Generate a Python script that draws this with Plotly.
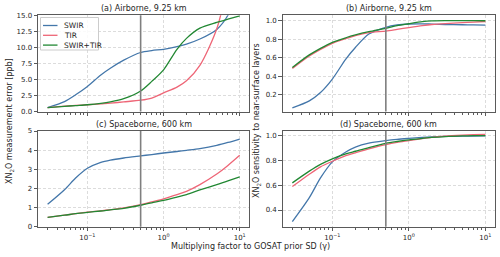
import plotly.graph_objects as go

# ---------------- data ----------------
gamma = [0.03, 0.05, 0.07, 0.1, 0.15, 0.2, 0.3, 0.5, 0.7, 1, 1.5, 2, 3, 5, 7, 10]
gamma_ref = 0.5

# (a) Airborne error [ppb]
a_swir = [0.62, 1.55, 2.6, 3.9, 5.7, 6.75, 8.0, 9.2, 9.5, 9.7, 10.1, 10.5, 11.3, 12.8, 15.0, 20.0]
a_tir = [0.6, 0.85, 0.95, 1.05, 1.2, 1.3, 1.5, 1.76, 2.1, 2.9, 3.8, 4.8, 7.2, 12.9, 20.0, 30.0]
a_both = [0.6, 0.8, 0.92, 1.05, 1.27, 1.5, 2.0, 3.2, 4.7, 6.5, 9.7, 11.4, 13.0, 13.9, 14.4, 14.9]

# (b) Airborne sensitivity
b_swir = [0.06, 0.135, 0.225, 0.37, 0.585, 0.71, 0.855, 0.928, 0.953, 0.963, 0.965, 0.962, 0.958, 0.955, 0.953, 0.952]
b_tir = [0.485, 0.62, 0.69, 0.755, 0.805, 0.838, 0.87, 0.887, 0.905, 0.925, 0.946, 0.958, 0.968, 0.977, 0.983, 0.99]
b_both = [0.495, 0.63, 0.70, 0.765, 0.815, 0.845, 0.88, 0.917, 0.945, 0.966, 0.988, 0.997, 1.0, 1.0, 1.0, 0.998]

# (c) Spaceborne error [ppb]
c_swir = [1.17, 1.93, 2.54, 3.05, 3.36, 3.48, 3.59, 3.7, 3.77, 3.85, 3.93, 3.99, 4.08, 4.25, 4.4, 4.58]
c_tir = [0.49, 0.6, 0.68, 0.76, 0.83, 0.89, 0.98, 1.15, 1.3, 1.46, 1.68, 1.85, 2.2, 2.75, 3.2, 3.73]
c_both = [0.49, 0.6, 0.68, 0.75, 0.82, 0.88, 0.96, 1.12, 1.25, 1.38, 1.55, 1.68, 1.92, 2.2, 2.4, 2.6]

# (d) Spaceborne sensitivity
d_swir = [0.306, 0.5, 0.66, 0.79, 0.87, 0.91, 0.942, 0.962, 0.972, 0.98, 0.988, 0.992, 0.996, 0.998, 0.999, 1.0]
d_tir = [0.59, 0.69, 0.75, 0.795, 0.84, 0.863, 0.895, 0.93, 0.948, 0.962, 0.978, 0.988, 0.998, 1.006, 1.01, 1.013]
d_both = [0.62, 0.715, 0.77, 0.815, 0.855, 0.876, 0.906, 0.94, 0.955, 0.968, 0.98, 0.988, 0.995, 1.0, 1.002, 1.003]

series_names = ["SWIR", "TIR", "SWIR+TIR"]
colors = ["#4477AA", "#EE6677", "#228833"]
panel_titles = ["(a) Airborne, 9.25 km", "(b) Airborne, 9.25 km",
                "(c) Spaceborne, 600 km", "(d) Spaceborne, 600 km"]
x_tickvals = [0.1, 1, 10]
x_ticktext = ["10<sup>−1</sup>", "10<sup>0</sup>", "10<sup>1</sup>"]
a_ticks = [0, 2.5, 5, 7.5, 10, 12.5, 15]
b_ticks = [0.2, 0.4, 0.6, 0.8, 1.0]
c_ticks = [0, 1, 2, 3, 4, 5]
d_ticks = [0.4, 0.6, 0.8, 1.0]

# ---------------- layout geometry ----------------
W, H = 500, 257
def px_x(p):
    return p / W
def px_y(p):
    return 1 - p / H

dom_x_left = [px_x(38), px_x(249.3)]
dom_x_right = [px_x(282.7), px_x(495)]
dom_y_top = [px_y(111.5), px_y(15.3)]
dom_y_bot = [px_y(226.7), px_y(131)]

FONT = "DejaVu Sans"
TXT = "#262626"
SPINE = "#5a5a5a"
GRID = "#dcdcdc"
GRID_DASH = "3px,2px"

fig = go.Figure()

panels = [
    ("x", "y", [a_swir, a_tir, a_both]),
    ("x2", "y2", [b_swir, b_tir, b_both]),
    ("x3", "y3", [c_swir, c_tir, c_both]),
    ("x4", "y4", [d_swir, d_tir, d_both]),
]
for pi, (xa, ya, data) in enumerate(panels):
    for si, vals in enumerate(data):
        fig.add_trace(go.Scatter(
            x=gamma, y=vals, mode="lines", xaxis=xa, yaxis=ya,
            name=series_names[si], showlegend=False,
            line=dict(color=colors[si], width=1.3, shape="spline", smoothing=0.8),
            hoverinfo="skip"))

xrange_log = [-1.649, 1.126]

def xaxis_cfg(domain, anchor, show_labels):
    return dict(
        type="log", domain=domain, anchor=anchor, range=xrange_log,
        tickmode="array", tickvals=x_tickvals, ticktext=x_ticktext,
        showticklabels=show_labels, automargin=False,
        ticks="outside", ticklen=3.5, tickwidth=0.8, tickcolor=SPINE,
        showline=True, linecolor=SPINE, linewidth=1, mirror=True,
        showgrid=True, gridcolor=GRID, griddash=GRID_DASH, gridwidth=0.8,
        zeroline=False,
        minor=dict(dtick="D1", ticks="outside", ticklen=2, tickwidth=0.6,
                   tickcolor=SPINE, showgrid=False),
        tickfont=dict(family=FONT, size=7, color=TXT),
    )

def yaxis_cfg(domain, anchor, rng, ticks, texts):
    return dict(
        domain=domain, anchor=anchor, range=rng, automargin=False,
        tickmode="array", tickvals=ticks, ticktext=texts,
        ticks="outside", ticklen=3.5, tickwidth=0.8, tickcolor=SPINE,
        showline=True, linecolor=SPINE, linewidth=1, mirror=True,
        showgrid=True, gridcolor=GRID, griddash=GRID_DASH, gridwidth=0.8,
        zeroline=False,
        tickfont=dict(family=FONT, size=7, color=TXT),
    )

fig.update_layout(
    width=W, height=H,
    margin=dict(l=0, r=0, t=0, b=0),
    paper_bgcolor="white", plot_bgcolor="white",
    font=dict(family=FONT, size=8, color=TXT),
    xaxis=xaxis_cfg(dom_x_left, "y", False),
    yaxis=yaxis_cfg(dom_y_top, "x", [0, 15], a_ticks, [f"{v:.1f}" for v in a_ticks]),
    xaxis2=xaxis_cfg(dom_x_right, "y2", False),
    yaxis2=yaxis_cfg(dom_y_top, "x2", [0.02, 1.057], b_ticks, [f"{v:.1f}" for v in b_ticks]),
    xaxis3=xaxis_cfg(dom_x_left, "y3", True),
    yaxis3=yaxis_cfg(dom_y_bot, "x3", [0, 5], c_ticks, [f"{v:d}" for v in c_ticks]),
    xaxis4=xaxis_cfg(dom_x_right, "y4", True),
    yaxis4=yaxis_cfg(dom_y_bot, "x4", [0.265, 1.04], d_ticks, [f"{v:.1f}" for v in d_ticks]),
    showlegend=False,
)

# reference gamma lines
for xa, ya in [("x", "y"), ("x2", "y2"), ("x3", "y3"), ("x4", "y4")]:
    fig.add_shape(type="line", xref=xa, yref=ya + " domain",
                  x0=gamma_ref, x1=gamma_ref, y0=0, y1=1,
                  line=dict(color="#7f7f7f", width=1.6), layer="above")

# legend (drawn in paper space, matplotlib-style compact box)
leg_left, leg_right, leg_top, leg_bot = 40.5, 98.5, 17.5, 50
fig.add_shape(type="rect", xref="paper", yref="paper",
              x0=px_x(leg_left), x1=px_x(leg_right), y0=px_y(leg_bot), y1=px_y(leg_top),
              line=dict(color="#cccccc", width=1), fillcolor="rgba(255,255,255,0.85)",
              layer="above")
for i, (name, col) in enumerate(zip(series_names, colors)):
    yy = 25.5 + i * 9.8
    fig.add_shape(type="line", xref="paper", yref="paper",
                  x0=px_x(43), x1=px_x(57.5), y0=px_y(yy), y1=px_y(yy),
                  line=dict(color=col, width=1.3), layer="above")
    fig.add_annotation(text=name, xref="paper", yref="paper",
                       x=px_x(62), y=px_y(yy), xanchor="left", yanchor="middle",
                       showarrow=False, font=dict(family=FONT, size=7.5, color=TXT))

# panel titles
title_pos = [(dom_x_left, 8.5), (dom_x_right, 8.5), (dom_x_left, 124.5), (dom_x_right, 124.5)]
for t, (dom, ypx) in zip(panel_titles, title_pos):
    fig.add_annotation(text=t, xref="paper", yref="paper",
                       x=(dom[0] + dom[1]) / 2, y=px_y(ypx),
                       xanchor="center", yanchor="middle", showarrow=False,
                       font=dict(family=FONT, size=8, color=TXT))

# axis titles
fig.add_annotation(text="XN<sub>2</sub>O measurement error [ppb]", xref="paper", yref="paper",
                   x=px_x(10), y=px_y(121), textangle=-90, showarrow=False,
                   xanchor="center", yanchor="middle",
                   font=dict(family=FONT, size=8, color=TXT))
fig.add_annotation(text="XN<sub>2</sub>O sensitivity to near-surface layers", xref="paper", yref="paper",
                   x=px_x(257), y=px_y(121), textangle=-90, showarrow=False,
                   xanchor="center", yanchor="middle",
                   font=dict(family=FONT, size=8, color=TXT))
fig.add_annotation(text="Multiplying factor to GOSAT prior SD (γ)", xref="paper", yref="paper",
                   x=0.5, y=px_y(246.5), showarrow=False,
                   xanchor="center", yanchor="middle",
                   font=dict(family=FONT, size=8, color=TXT))

fig.write_html("out.html", config={"displayModeBar": False},
               post_script="document.body.style.margin='0';")
